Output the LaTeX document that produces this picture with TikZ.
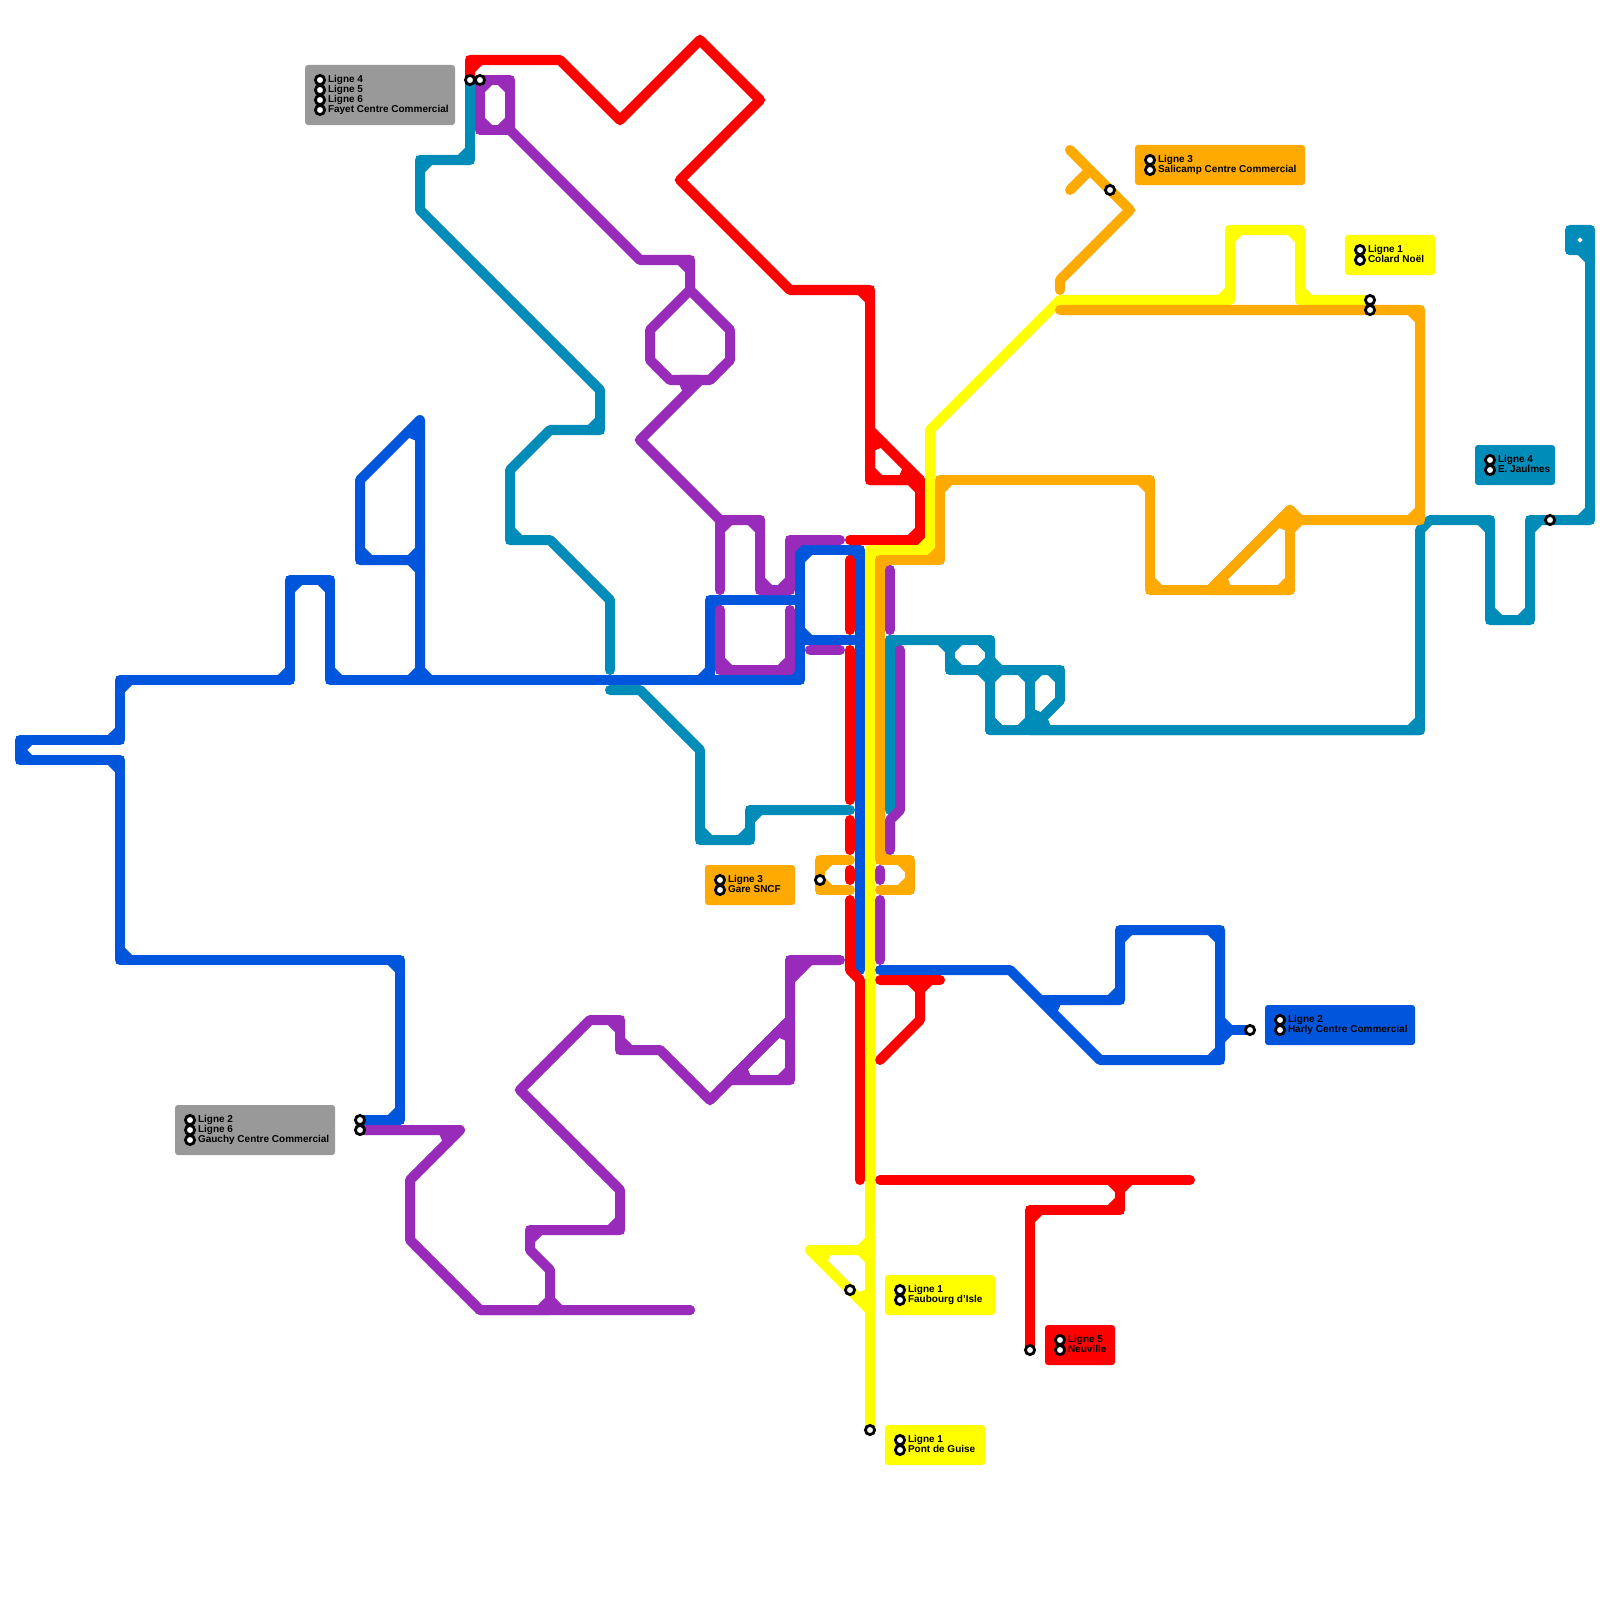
\documentclass[tikz,border=0pt]{standalone}
\usepackage{fontspec}
\setmainfont{Liberation Sans}
\usetikzlibrary{calc}
\definecolor{mRed}{RGB}{255,0,0}
\definecolor{mYellow}{RGB}{255,255,0}
\definecolor{mBlue}{RGB}{0,85,221}
\definecolor{mOrange}{RGB}{255,170,0}
\definecolor{mTeal}{RGB}{0,140,185}
\definecolor{mPurple}{RGB}{153,43,187}
\definecolor{mGrey}{RGB}{153,153,153}
\tikzset{
  lnr/.style={line width=.1cm,line cap=round,line join=round},
  lnm/.style={line width=.08cm,line cap=butt,line join=miter,miter limit=1.5},
  lbox/.style={rectangle,rounded corners=.03cm,inner sep=0pt,outer sep=0pt,anchor=north west,draw=none},
  ltxt/.style={inner sep=0pt,outer sep=0pt,anchor=base west,text=black,font=\fontsize{2.845pt}{3pt}\selectfont\bfseries},
  stn/.style={circle,draw=black,fill=white,inner sep=0pt,minimum size=.092cm,line width=.028cm},
}
\newdimen\mdxa \newdimen\mdya \newdimen\mdxb \newdimen\mdyb
\newcommand{\metroline}[2]{%
  \foreach \p [count=\i] in {#2}{%
    \ifnum\i=1 \xdef\mpath{\p}\else \xdef\mpath{\mpath -- \p}\fi
  }%
  \edef\mtmp{\noexpand\draw[lnr,draw=#1] \mpath; \noexpand\draw[lnm,draw=#1] \mpath;}\mtmp
  \foreach \p [count=\i] in {#2}{%
    \ifnum\i>2
      \edef\mtmpb{\noexpand\path \gA coordinate (mA); \noexpand\path \gB coordinate (mB); \noexpand\path \p coordinate (mC);}\mtmpb
      \pgfextractx{\mdxa}{\pgfpointdiff{\pgfpointanchor{mA}{center}}{\pgfpointanchor{mB}{center}}}%
      \pgfextracty{\mdya}{\pgfpointdiff{\pgfpointanchor{mA}{center}}{\pgfpointanchor{mB}{center}}}%
      \pgfextractx{\mdxb}{\pgfpointdiff{\pgfpointanchor{mB}{center}}{\pgfpointanchor{mC}{center}}}%
      \pgfextracty{\mdyb}{\pgfpointdiff{\pgfpointanchor{mB}{center}}{\pgfpointanchor{mC}{center}}}%
      \pgfmathsetmacro\aone{atan2(\mdya,\mdxa)}%
      \pgfmathsetmacro\atwo{atan2(\mdyb,\mdxb)}%
      \pgfmathsetmacro\mturn{abs(mod(\atwo-\aone+540,360)-180)}%
      \pgfmathsetmacro\maxis{abs(mod(\aone+360+22.5,90)-22.5)}%
      \pgfmathsetmacro\chd{abs(\mturn-135)<5 ? 0.17 : ((abs(\mturn-90)<5 && \maxis<5) ? 0.10 : 0)}%
      \ifdim\chd pt>0pt
        \draw[lnr,draw=#1] ($(mB)!\chd cm!(mA)$) -- ($(mB)!\chd cm!(mC)$);
      \fi
    \fi
    \ifnum\i>1 \xdef\gA{\gB}\fi
    \xdef\gB{\p}%
  }%
}
\begin{document}
\begin{tikzpicture}[x=.01cm,y=-.01cm]
\useasboundingbox (0,0) rectangle (1600,1600);
\fill[white] (0,0) rectangle (1600,1600);
% terminal positions
\coordinate (cFayetA) at (470,80);
\coordinate (cFayetB) at (480,80);
\coordinate (cGauchyA) at (360,1120);
\coordinate (cGauchyB) at (360,1130);
\coordinate (cGare) at (820,880);
\coordinate (cSali) at (1110,190);
\coordinate (cColard) at (1370,300);
\coordinate (cColardB) at (1370,310);
\coordinate (cJaul) at (1550,520);
\coordinate (cHarly) at (1250,1030);
\coordinate (cFaub) at (850,1290);
\coordinate (cPont) at (870,1430);
\coordinate (cNeuv) at (1030,1350);
% Ligne 4
\metroline{mTeal}{(cFayetA),(470,160),(420,160),(420,210),(600,390),(600,430),(550,430),(510,470),(510,540),(550,540),(610,600),(610,670)}
\metroline{mTeal}{(610,690),(640,690),(700,750),(700,840),(750,840),(750,810),(850,810)}
\metroline{mTeal}{(890,810),(890,640),(990,640),(990,730),(1420,730),(1420,530),(1430,520),(1490,520),(1490,620),(1530,620),(1530,520),(cJaul),(1590,520),(1590,230),(1570,230),(1570,250),(1590,250),(1590,270)}
\metroline{mTeal}{(1570,250),(1590,250),(1590,230)}
\metroline{mTeal}{(890,640),(950,640),(950,670),(990,670),(990,640),(950,640),(950,670)}
\metroline{mTeal}{(950,670),(990,670),(990,730),(1030,730),(1030,670),(990,670),(990,730)}
\metroline{mTeal}{(990,640),(990,670),(1060,670),(1060,700),(1030,730),(1030,670),(1060,670)}
\metroline{mTeal}{(1060,700),(1030,730),(1420,730)}
% Ligne 2
\metroline{mBlue}{(cGauchyA),(400,1120),(400,960),(120,960),(120,760),(20,760),(20,740),(120,740),(120,680),(290,680),(290,580),(330,580),(330,680),(800,680),(800,550),(860,550),(860,970)}
\metroline{mBlue}{(690,680),(710,680),(710,600),(800,600)}
\metroline{mBlue}{(800,620),(800,640),(860,640)}
\metroline{mBlue}{(420,680),(420,420),(360,480),(360,560),(420,560),(420,540)}
\metroline{mBlue}{(400,560),(420,560),(420,580)}
\metroline{mBlue}{(400,680),(420,680),(420,660)}
\metroline{mBlue}{(440,680),(420,680),(420,660)}
\metroline{mBlue}{(880,970),(1010,970),(1100,1060),(1220,1060),(1220,930),(1120,930),(1120,1000),(1040,1000),(1100,1060)}
\metroline{mBlue}{(cHarly),(1220,1030),(1220,1010)}
\metroline{mBlue}{(1240,1030),(1220,1030),(1220,1050)}
% Ligne 5
\metroline{mRed}{(cFayetA),(470,60),(560,60),(620,120),(700,40),(760,100),(680,180),(790,290),(870,290),(870,480),(920,480),(920,540),(850,540)}
\metroline{mRed}{(870,480),(870,430),(920,480),(870,480)}
\metroline{mRed}{(850,560),(850,630)}
\metroline{mRed}{(850,650),(850,800)}
\metroline{mRed}{(850,820),(850,850)}
\metroline{mRed}{(850,870),(850,880)}
\metroline{mRed}{(850,900),(850,970),(860,980),(860,1180)}
\metroline{mRed}{(880,980),(920,980),(920,1020),(880,1060)}
\metroline{mRed}{(940,980),(920,980),(920,1000)}
\metroline{mRed}{(880,1180),(1190,1180)}
\metroline{mRed}{(1100,1180),(1120,1180),(1120,1210),(1030,1210),(cNeuv)}
\metroline{mRed}{(1140,1180),(1120,1180),(1120,1200)}
% Ligne 1
\metroline{mYellow}{(cColard),(1300,300),(1300,230),(1230,230),(1230,300),(1060,300),(930,430),(930,550),(870,550),(cPont)}
\metroline{mYellow}{(870,1230),(870,1250),(810,1250),(cFaub),(870,1310),(870,1250),(810,1250)}
% Ligne 3
\metroline{mOrange}{(1060,290),(1060,280),(1130,210),(cSali),(1070,150)}
\metroline{mOrange}{(1070,190),(1090,170)}
\metroline{mOrange}{(1060,310),(cColardB),(1420,310),(1420,520),(1300,520),(1290,510),(1210,590)}
\metroline{mOrange}{(1290,510),(1290,590),(1150,590),(1150,480),(940,480),(940,560),(880,560),(880,860),(910,860),(910,890),(880,890)}
\metroline{mOrange}{(1290,590),(1210,590),(1290,510),(1290,530)}
\metroline{mOrange}{(1290,540),(1290,520),(1310,520)}
\metroline{mOrange}{(850,860),(820,860),(820,890),(850,890)}
% Ligne 6
\metroline{mPurple}{(cFayetB),(510,80),(510,130),(480,130),(480,80),(510,80)}
\metroline{mPurple}{(510,130),(640,260),(690,260),(690,290),(730,330),(730,360),(710,380),(670,380),(650,360),(650,330),(690,290)}
\metroline{mPurple}{(680,380),(700,380),(640,440),(720,520),(760,520),(760,590),(790,590),(790,540),(840,540)}
\metroline{mPurple}{(720,590),(720,520),(760,520)}
\metroline{mPurple}{(720,610),(720,670),(790,670),(790,610)}
\metroline{mPurple}{(810,650),(840,650)}
\metroline{mPurple}{(890,570),(890,630)}
\metroline{mPurple}{(900,650),(900,810),(890,820),(890,850)}
\metroline{mPurple}{(880,870),(880,880)}
\metroline{mPurple}{(880,900),(880,960)}
\metroline{mPurple}{(840,960),(790,960),(790,1080),(730,1080),(790,1020),(790,1040)}
\metroline{mPurple}{(810,960),(790,980)}
\metroline{mPurple}{(790,1020),(710,1100),(660,1050),(620,1050),(620,1020),(590,1020),(520,1090),(620,1190),(620,1230),(530,1230),(530,1250),(550,1270),(550,1310),(480,1310)}
\metroline{mPurple}{(690,1310),(480,1310),(410,1240),(410,1180),(460,1130),(cGauchyB)}
\metroline{mPurple}{(550,1290),(550,1310),(690,1310)}
% Map stations
\node[stn] (stFayetA) at (cFayetA) {};
\node[stn] (stFayetB) at (cFayetB) {};
\node[stn] (stGauchyA) at (cGauchyA) {};
\node[stn] (stGauchyB) at (cGauchyB) {};
\node[stn] (stGare) at (cGare) {};
\node[stn] (stSali) at (cSali) {};
\node[stn] (stColardA) at (cColard) {};
\node[stn] (stColardB) at (cColardB) {};
\node[stn] (stJaul) at (cJaul) {};
\node[stn] (stHarly) at (cHarly) {};
\node[stn] (stFaub) at (cFaub) {};
\node[stn] (stPont) at (cPont) {};
\node[stn] (stNeuv) at (cNeuv) {};
% Labels
\node[lbox,fill=mGrey,minimum width=1.5cm,minimum height=.6cm] (bFayet) at (305,65) {};
\node[stn] (kFa1) at (320,80) {}; \node[stn] (kFa2) at (320,90) {}; \node[stn] (kFa3) at (320,100) {}; \node[stn] (kFa4) at (320,110) {};
\node[ltxt] (tFa1) at (328,82.5) {Ligne 4}; \node[ltxt] (tFa2) at (328,92.5) {Ligne 5}; \node[ltxt] (tFa3) at (328,102.5) {Ligne 6}; \node[ltxt] (tFa4) at (328,112.5) {Fayet Centre Commercial};
\node[lbox,fill=mGrey,minimum width=1.6cm,minimum height=.5cm] (bGauchy) at (175,1105) {};
\node[stn] (kGa1) at (190,1120) {}; \node[stn] (kGa2) at (190,1130) {}; \node[stn] (kGa3) at (190,1140) {};
\node[ltxt] (tGa1) at (198,1122.5) {Ligne 2}; \node[ltxt] (tGa2) at (198,1132.5) {Ligne 6}; \node[ltxt] (tGa3) at (198,1142.5) {Gauchy Centre Commercial};
\node[lbox,fill=mOrange,minimum width=.9cm,minimum height=.4cm] (bGare) at (705,865) {};
\node[stn] (kGr1) at (720,880) {}; \node[stn] (kGr2) at (720,890) {};
\node[ltxt] (tGr1) at (728,882.5) {Ligne 3}; \node[ltxt] (tGr2) at (728,892.5) {Gare SNCF};
\node[lbox,fill=mOrange,minimum width=1.7cm,minimum height=.4cm] (bSali) at (1135,145) {};
\node[stn] (kSa1) at (1150,160) {}; \node[stn] (kSa2) at (1150,170) {};
\node[ltxt] (tSa1) at (1158,162.5) {Ligne 3}; \node[ltxt] (tSa2) at (1158,172.5) {Salicamp Centre Commercial};
\node[lbox,fill=mYellow,minimum width=.9cm,minimum height=.4cm] (bColard) at (1345,235) {};
\node[stn] (kCo1) at (1360,250) {}; \node[stn] (kCo2) at (1360,260) {};
\node[ltxt] (tCo1) at (1368,252.5) {Ligne 1}; \node[ltxt] (tCo2) at (1368,262.5) {Colard Noël};
\node[lbox,fill=mTeal,minimum width=.8cm,minimum height=.4cm] (bJaul) at (1475,445) {};
\node[stn] (kJa1) at (1490,460) {}; \node[stn] (kJa2) at (1490,470) {};
\node[ltxt] (tJa1) at (1498,462.5) {Ligne 4}; \node[ltxt] (tJa2) at (1498,472.5) {E. Jaulmes};
\node[lbox,fill=mBlue,minimum width=1.5cm,minimum height=.4cm] (bHarly) at (1265,1005) {};
\node[stn] (kHa1) at (1280,1020) {}; \node[stn] (kHa2) at (1280,1030) {};
\node[ltxt] (tHa1) at (1288,1022.5) {Ligne 2}; \node[ltxt] (tHa2) at (1288,1032.5) {Harly Centre Commercial};
\node[lbox,fill=mYellow,minimum width=1.1cm,minimum height=.4cm] (bFaub) at (885,1275) {};
\node[stn] (kFb1) at (900,1290) {}; \node[stn] (kFb2) at (900,1300) {};
\node[ltxt] (tFb1) at (908,1292.5) {Ligne 1}; \node[ltxt] (tFb2) at (908,1302.5) {Faubourg d’Isle};
\node[lbox,fill=mYellow,minimum width=1cm,minimum height=.4cm] (bPont) at (885,1425) {};
\node[stn] (kPo1) at (900,1440) {}; \node[stn] (kPo2) at (900,1450) {};
\node[ltxt] (tPo1) at (908,1442.5) {Ligne 1}; \node[ltxt] (tPo2) at (908,1452.5) {Pont de Guise};
\node[lbox,fill=mRed,minimum width=.7cm,minimum height=.4cm] (bNeuv) at (1045,1325) {};
\node[stn] (kNe1) at (1060,1340) {}; \node[stn] (kNe2) at (1060,1350) {};
\node[ltxt] (tNe1) at (1068,1342.5) {Ligne 5}; \node[ltxt] (tNe2) at (1068,1352.5) {Neuville};
\end{tikzpicture}
\end{document}
